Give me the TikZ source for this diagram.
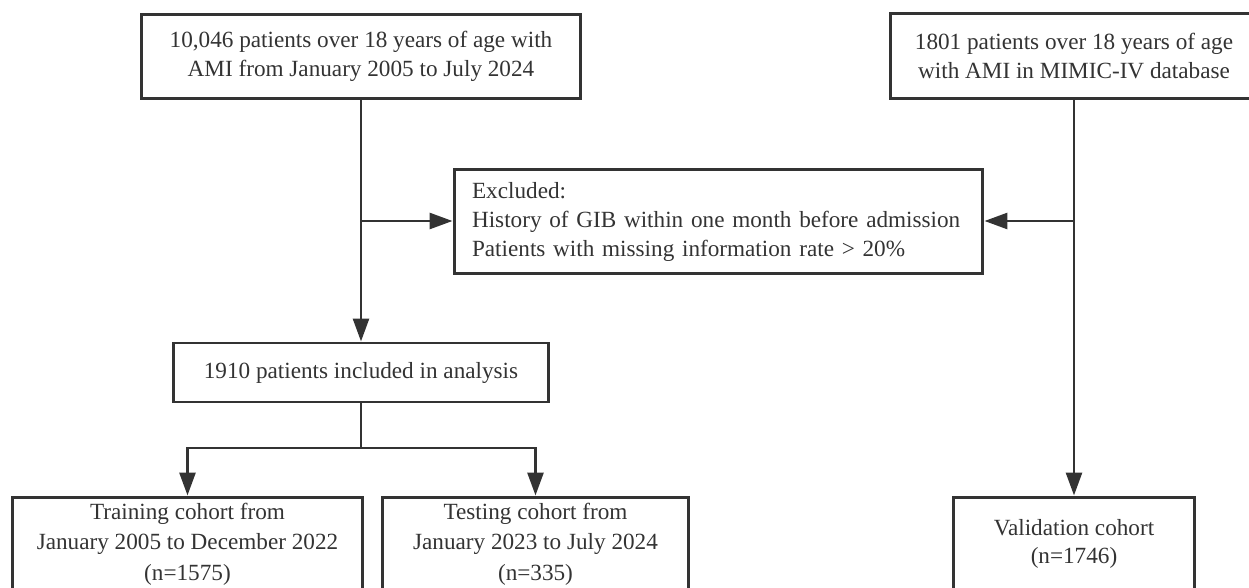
\documentclass[tikz,border=0pt]{standalone}
\usepackage{fontspec}
\setmainfont{Liberation Serif}
\usetikzlibrary{arrows.meta}

\definecolor{ink}{HTML}{333333}

\tikzset{
  box/.style={draw=ink, line width=1.7pt, text=ink, align=center, inner sep=0pt,
    font=\fontsize{13.2}{16.5}\selectfont},
  link/.style={draw=ink, line width=1.7pt},
  arr/.style={link, -{Triangle[length=13pt,width=9pt]}},
}

\begin{document}
\begin{tikzpicture}[x=0.02cm, y=-0.02cm]
\useasboundingbox (0,0) rectangle (1249,588);
\clip (0,0) rectangle (1249,588);

% hospital cohort
\node[box, minimum width=8.8cm, minimum height=1.7cm] (hosp) at (361,56.5)
  {10,046 patients over 18 years of age with\\AMI from January 2005 to July 2024};

% mimic cohort
\node[box, minimum width=7.36cm, minimum height=1.72cm] (mimic) at (1074,56)
  {1801 patients over 18 years of age\\with AMI in MIMIC-IV database};

% exclusion
\node[box, align=left, text width=9.86cm, inner xsep=0.36cm, minimum height=2.1cm] (excl) at (718.5,221.5)
  {Excluded:\\History of GIB within one month before admission\\Patients with missing information rate > 20\%};

% included
\node[box, minimum width=7.5cm, minimum height=1.18cm] (incl) at (361,372.5)
  {1910 patients included in analysis};

% training / testing / validation
\node[box, minimum width=7.02cm, minimum height=1.88cm, font=\fontsize{13.2}{17.3}\selectfont] (train) at (187.5,544)
  {Training cohort from\\January 2005 to December 2022\\(n=1575)};
\node[box, minimum width=6.14cm, minimum height=1.88cm, font=\fontsize{13.2}{17.3}\selectfont] (test) at (535.5,544)
  {Testing cohort from\\January 2023 to July 2024\\(n=335)};
\node[box, minimum width=4.82cm, minimum height=1.88cm, font=\fontsize{13.2}{15.5}\selectfont] (valid) at (1074,544)
  {Validation cohort\\(n=1746)};

% joints
\coordinate (jl) at (361,221);
\coordinate (jr) at (1074,221);
\coordinate (split) at (361,448);

% connectors
\draw[arr] (hosp.south) -- (incl.north);
\draw[arr] (jl) -- (jl -| excl.west);
\draw[arr] (mimic.south) -- (valid.north);
\draw[arr] (jr) -- (jr -| excl.east);
\draw[link] (incl.south) -- (split);
\draw[arr] (split) -| (train.north);
\draw[arr] (split) -| (test.north);

\end{tikzpicture}
\end{document}
